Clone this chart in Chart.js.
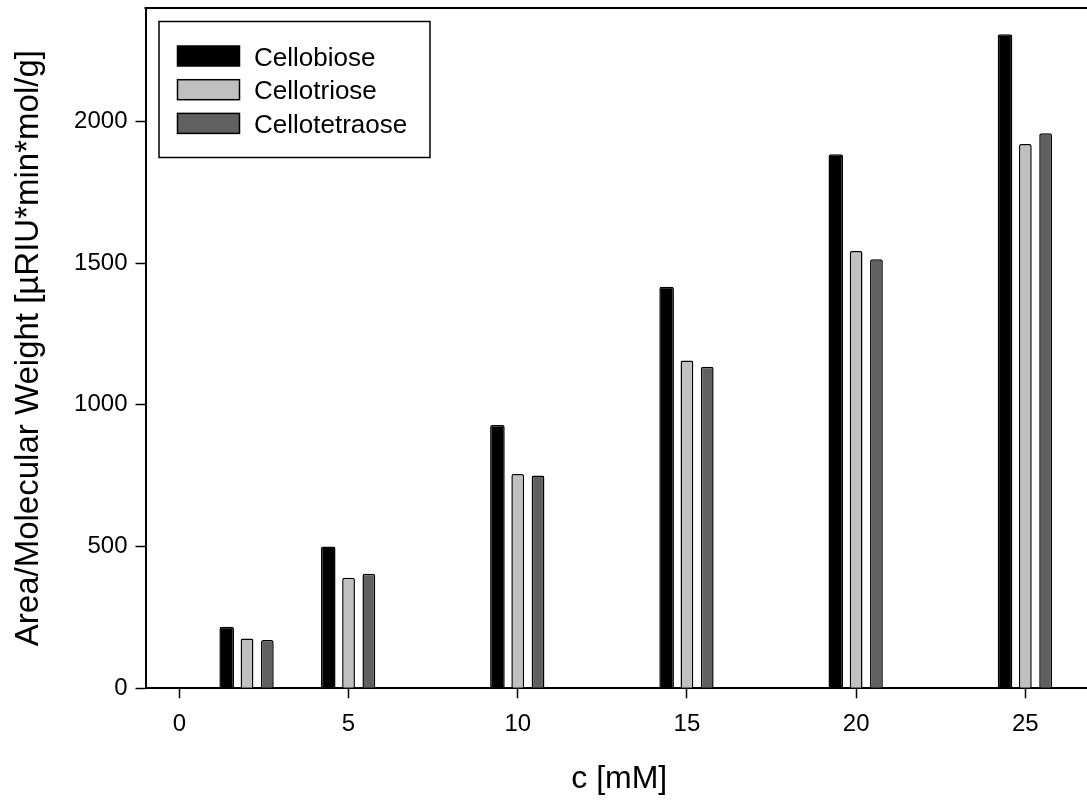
<html>

<head>
  <script src="https://cdn.jsdelivr.net/npm/chart.js"></script>
  <title>Cello-oligosaccharide calibration</title>
  <style>
    html, body { margin: 0; padding: 0; overflow: hidden; background: #fff; }
  </style>
</head>

<body>

  <div style="position:absolute;left:0;top:0;width:1094px;height:803px;">
    <canvas id="myChart"></canvas>
  </div>

  <script>
    // concentration [mM] and area / molecular weight per sugar
    const concentrations = [2, 5, 10, 15, 20, 25];
    const cellobiose = [217, 500, 929, 1417, 1884, 2307];
    const cellotriose = [176, 390, 756, 1156, 1543, 1920];
    const cellotetraose = [170, 404, 751, 1134, 1514, 1958];

    const xTicks = [0, 5, 10, 15, 20, 25];
    const yTicks = [0, 500, 1000, 1500, 2000];

    const seriesNames = ["Cellobiose", "Cellotriose", "Cellotetraose"];
    const seriesValues = [cellobiose, cellotriose, cellotetraose];
    const seriesFill = ["#000000", "#c0c0c0", "#606060"];
    const seriesBarPct = [0.72, 0.63, 0.63];

    const FONT = "'Liberation Sans', Arial, sans-serif";

    function toPoints(values) {
      return concentrations.map((c, i) => ({ x: c, y: values[i] }));
    }

    // drop the half-label paddings so the plot box uses the fixed axis sizes
    function noPad(axis) {
      axis.paddingTop = 0;
      axis.paddingBottom = 0;
      axis.paddingLeft = 0;
      axis.paddingRight = 0;
    }

    // top/right frame line + boxed legend inside the plot area
    const framePlugin = {
      id: "frameAndLegend",
      afterDraw: (chart) => {
        const { ctx, chartArea } = chart;
        ctx.save();
        ctx.strokeStyle = "#000";
        ctx.lineWidth = 2;
        ctx.beginPath();
        ctx.moveTo(chartArea.left - 1, chartArea.top);
        ctx.lineTo(chartArea.right, chartArea.top);
        ctx.lineTo(chartArea.right, chartArea.bottom);
        ctx.stroke();

        const bx = chartArea.left + 13.5;
        const by = chartArea.top + 13.5;
        ctx.lineWidth = 1.5;
        ctx.fillStyle = "#fff";
        ctx.fillRect(bx, by, 271, 136);
        ctx.strokeRect(bx, by, 271, 136);

        ctx.font = "26px " + FONT;
        ctx.textBaseline = "alphabetic";
        chart.data.datasets.forEach((ds, i) => {
          const sy = by + 24.5 + i * 33.7;
          ctx.fillStyle = ds.backgroundColor;
          ctx.fillRect(bx + 18.5, sy, 62, 20);
          ctx.strokeStyle = "#000";
          ctx.lineWidth = 1.5;
          ctx.strokeRect(bx + 18.5, sy, 62, 20);
          ctx.fillStyle = "#000";
          ctx.fillText(ds.label, bx + 95, sy + 19.5);
        });
        ctx.restore();
      },
    };

    const ctx1 = document.getElementById("myChart").getContext("2d");
    const myChart1 = new Chart(ctx1, {
      type: "bar",
      data: {
        datasets: seriesNames.map((name, i) => ({
          label: name,
          data: toPoints(seriesValues[i]),
          backgroundColor: seriesFill[i],
          borderColor: "#000",
          borderWidth: 1.5,
          borderRadius: 2,
          borderSkipped: "bottom",
          categoryPercentage: 0.6,
          barPercentage: seriesBarPct[i],
        })),
      },
      options: {
        responsive: true,
        maintainAspectRatio: false,
        animation: false,
        layout: { padding: { top: 8, right: 1, left: 0, bottom: 0 } },
        scales: {
          x: {
            type: "linear",
            min: -1,
            max: 27,
            offset: false,
            afterFit: (axis) => { axis.height = 114.7; noPad(axis); },
            afterBuildTicks: (axis) => { axis.ticks = xTicks.map((v) => ({ value: v })); },
            border: { color: "#000", width: 2 },
            grid: { offset: false, drawOnChartArea: false, tickLength: 10, tickColor: "#000", tickWidth: 1.5 },
            ticks: {
              includeBounds: false,
              color: "#000",
              padding: 12,
              maxRotation: 0,
              font: { family: FONT, size: 24 },
              callback: (v) => String(v),
            },
            title: {
              display: true,
              text: "c [mM]",
              color: "#000",
              font: { family: FONT, size: 32 },
              padding: { top: 0, bottom: 5 },
            },
          },
          y: {
            min: 0,
            max: 2400,
            afterFit: (axis) => { axis.width = 145.5; noPad(axis); },
            afterBuildTicks: (axis) => { axis.ticks = yTicks.map((v) => ({ value: v })); },
            border: { color: "#000", width: 2 },
            grid: { drawOnChartArea: false, tickLength: 10, tickColor: "#000", tickWidth: 1.5 },
            ticks: {
              includeBounds: false,
              color: "#000",
              padding: 8,
              font: { family: FONT, size: 24 },
              callback: (v) => String(v),
            },
            title: {
              display: true,
              text: "Area/Molecular Weight [µRIU*min*mol/g]",
              color: "#000",
              font: { family: FONT, size: 33 },
              padding: { top: 9, bottom: 0 },
            },
          },
        },
        plugins: {
          tooltip: { enabled: false },
          legend: { display: false },
        },
      },
      plugins: [framePlugin],
    });
  </script>
</body>

</html>
